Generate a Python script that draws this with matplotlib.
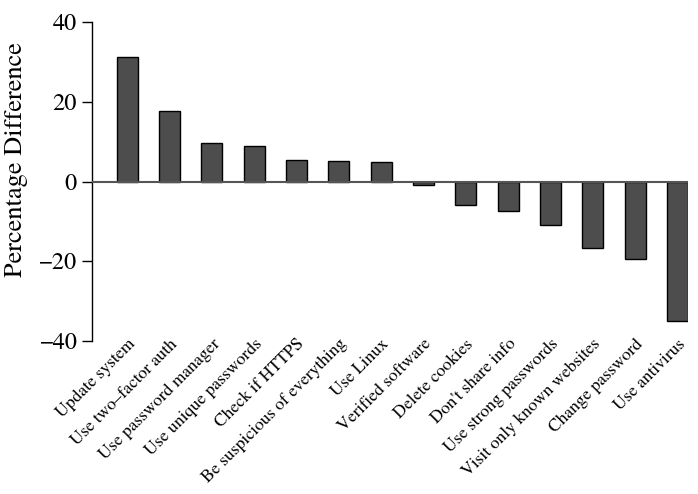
import matplotlib
matplotlib.use("Agg")
import matplotlib.pyplot as plt

categories = ["Update system", "Use two\u2013factor auth", "Use password manager",
              "Use unique passwords", "Check if HTTPS", "Be suspicious of everything",
              "Use Linux", "Verified software", "Delete cookies", "Don't share info",
              "Use strong passwords", "Visit only known websites", "Change password",
              "Use antivirus"]
values = [31.3, 17.7, 9.7, 8.9, 5.5, 5.2, 5.0, -0.9, -6.0, -7.4, -11.0, -16.8, -19.4, -34.9]
yticks = [-40, -20, 0, 20, 40]

plt.rcParams['font.family'] = ['TeX Gyre Termes', 'STIXGeneral', 'DejaVu Serif']

fig = plt.figure(figsize=(6.98, 4.94), dpi=100)
ax = fig.add_axes([92/698, 1-341/494, (688-92)/698, (341-22)/494])
x = list(range(len(categories)))
ax.bar(x, values, width=0.5, color='#4d4d4d', edgecolor='black', linewidth=1.0, zorder=2)
ax.axhline(0, color='#555555', linewidth=1.5, zorder=3)
ax.set_xlim(-0.83, 13.25)
ax.set_ylim(-40, 40)
ax.set_yticks(yticks)
ax.set_yticklabels([f"\u2212{abs(v)}" if v < 0 else str(v) for v in yticks], fontsize=17.5)
ax.set_xticks(x)
ax.set_xticklabels(categories, rotation=45, ha='right', va='top', rotation_mode='anchor', fontsize=12.7)
ax.tick_params(axis='x', length=0, pad=-3.5)
ax.tick_params(axis='y', length=7, width=1, pad=4)
for s in ['top', 'right', 'bottom']:
    ax.spines[s].set_visible(False)
ax.spines['left'].set_linewidth(1.0)
ax.set_ylabel("Percentage Difference", fontsize=19)
ax.yaxis.set_label_coords(-0.108, (341-160)/319)
fig.savefig("out.png", dpi=100)
